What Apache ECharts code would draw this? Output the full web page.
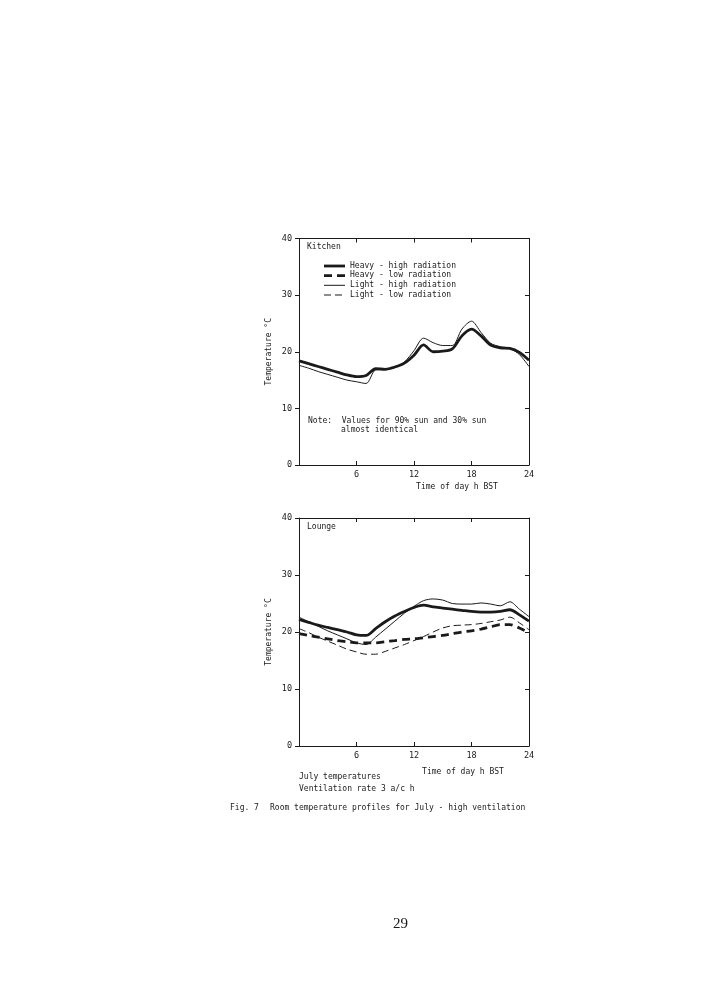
<!DOCTYPE html>
<html><head><meta charset="utf-8">
<script src="https://cdn.jsdelivr.net/npm/echarts@6/dist/echarts.min.js"></script>
<style>html,body{margin:0;padding:0;background:#fff}#c{width:702px;height:1000px}</style>
</head><body><div id="c"></div>
<script>
// ---- data ----
const hours = [0,1,2,3,4,5,6,7,8,9,10,11,12,13,14,15,16,17,18,19,20,21,22,23,24];
const xTicks = [0,6,12,18,24];
const yTicks = [0,10,20,30,40];
const seriesNames = ['Heavy - high radiation','Heavy - low radiation','Light - high radiation','Light - low radiation'];
// Kitchen (low radiation curves coincide with high radiation curves)
const kitchenHeavyHigh = [18.4,17.9,17.4,16.9,16.4,15.9,15.6,15.8,17.0,16.9,17.3,18.0,19.4,21.2,20.0,20.1,20.5,22.8,24.0,22.8,21.2,20.7,20.6,19.9,18.5];
const kitchenLightHigh = [17.6,17.1,16.5,16.0,15.5,15.0,14.7,14.4,16.8,16.9,17.2,18.2,20.2,22.4,21.6,21.1,21.1,24.0,25.4,23.4,21.5,20.9,20.6,19.5,17.4];
// Lounge
const loungeHeavyHigh = [22.2,21.7,21.2,20.8,20.4,20.0,19.5,19.4,20.6,21.8,22.8,23.6,24.3,24.7,24.4,24.2,24.0,23.8,23.6,23.5,23.5,23.6,23.9,23.0,21.9];
const loungeHeavyLow  = [19.7,19.4,19.1,18.8,18.5,18.3,18.1,18.1,18.1,18.3,18.5,18.7,18.8,19.0,19.2,19.4,19.7,20.0,20.2,20.5,20.9,21.3,21.3,20.7,19.9];
const loungeLightHigh = [22.6,21.8,21.0,20.2,19.5,18.8,18.1,17.8,19.1,20.5,21.9,23.3,24.5,25.5,25.8,25.6,25.0,24.9,24.9,25.1,24.9,24.6,25.3,24.0,22.7];
const loungeLightLow  = [20.6,19.9,19.1,18.4,17.7,17.0,16.5,16.1,16.1,16.6,17.2,17.8,18.5,19.2,20.0,20.7,21.1,21.2,21.3,21.5,21.8,22.1,22.6,21.6,20.4];

const pair = arr => arr.map((v,i)=>[hours[i],v]);
const FONT = 'DejaVu Sans Mono';
const INK = '#1a1a1a';
const FS = '8px "'+FONT+'"';
const styles = [
  {width:2.8,type:[8,5]},
  {width:2.8,type:[8,5]},
  {width:1,type:'solid'},
  {width:1,type:[7,4]}
];
styles[0].type='solid';
function mk(name, data, gi){
  const s = styles[seriesNames.indexOf(name)];
  return {name, type:'line', xAxisIndex:gi*2, yAxisIndex:gi*2, data: pair(data),
    smooth:0.3, symbol:'none', z:3, lineStyle:{color:INK,width:s.width,type:s.type}, itemStyle:{color:INK}};
}
const grids = [
  {left:299, top:238.5, width:230, height:226.5},
  {left:299, top:518, width:230, height:228}
];
const xAxes=[], yAxes=[];
grids.forEach((g,gi)=>{
  xAxes.push({gridIndex:gi, type:'value', min:0, max:24, interval:6, position:'bottom',
    name:'Time of day h BST', nameLocation:'middle', nameGap: gi===0?18:22,
    nameTextStyle:{fontFamily:FONT,fontSize:8,color:INK,padding:[0,0,0,gi===0?86:98]},
    axisLine:{onZero:false,lineStyle:{color:INK,width:1}}, axisTick:{inside:true,length:4,lineStyle:{color:INK}},
    axisLabel:{fontFamily:FONT,fontSize:8.5,color:INK,margin:5,formatter:v=>xTicks.includes(v)&&v!==0?String(v):''},
    splitLine:{show:false}});
  xAxes.push({gridIndex:gi, type:'value', min:0, max:24, interval:6, position:'top',
    axisLine:{show:true,onZero:false,lineStyle:{color:INK,width:1}}, axisTick:{show:true,inside:true,length:4,lineStyle:{color:INK}},
    axisLabel:{show:false}, splitLine:{show:false}});
  yAxes.push({gridIndex:gi, type:'value', min:0, max:40, interval:10, position:'left',
    name:'Temperature °C', nameLocation:'middle', nameGap:26, nameRotate:90,
    nameTextStyle:{fontFamily:FONT,fontSize:8,color:INK},
    axisLine:{show:true,onZero:false,lineStyle:{color:INK,width:1}}, axisTick:{show:true,inside:false,length:4,lineStyle:{color:INK}},
    axisLabel:{fontFamily:FONT,fontSize:8.5,color:INK,margin:7,formatter:v=>yTicks.includes(v)?String(v):''},
    splitLine:{show:false}});
  yAxes.push({gridIndex:gi, type:'value', min:0, max:40, interval:10, position:'right',
    axisLine:{show:true,onZero:false,lineStyle:{color:INK,width:1}}, axisTick:{show:true,inside:true,length:4,lineStyle:{color:INK}},
    axisLabel:{show:false}, splitLine:{show:false}});
});
const series = [
  mk('Heavy - high radiation', kitchenHeavyHigh, 0),
  mk('Light - high radiation', kitchenLightHigh, 0),
  mk('Heavy - high radiation', loungeHeavyHigh, 1),
  mk('Heavy - low radiation', loungeHeavyLow, 1),
  mk('Light - high radiation', loungeLightHigh, 1),
  mk('Light - low radiation', loungeLightLow, 1)
];
const legendY = [266,275.7,285.3,295];
const legendGraphics = [];
seriesNames.forEach((n,i)=>{
  const s = styles[i];
  legendGraphics.push({type:'line',shape:{x1:324,y1:legendY[i],x2:345,y2:legendY[i]},
    style:{stroke:INK,lineWidth:s.width,lineDash:Array.isArray(s.type)?s.type:null}});
  legendGraphics.push({type:'text',left:350,top:legendY[i]-4.5,style:{text:n,fill:INK,font:FS}});
});
const t = (x,y,s)=>({type:'text',left:x,top:y,style:{text:s,fill:INK,font:FS}});
const chart = echarts.init(document.getElementById('c'),null,{renderer:'canvas'});
chart.setOption({
  animation:false,
  backgroundColor:'#fff',
  grid:grids,
  xAxis:xAxes, yAxis:yAxes,
  series,
  graphic:[
    t(307,243,'Kitchen'),
    t(307,523,'Lounge'),
    t(308,417,'Note:  Values for 90% sun and 30% sun'),
    t(341,426,'almost identical'),
    t(299,773,'July temperatures'),
    t(299,785,'Ventilation rate 3 a/c h'),
    t(230,804,'Fig. 7'),
    t(270,804,'Room temperature profiles for July - high ventilation'),
    {type:'text',left:393,top:917,style:{text:'29',fill:INK,font:'15px "Liberation Serif"'}}
  ].concat(legendGraphics)
});
</script></body></html>
